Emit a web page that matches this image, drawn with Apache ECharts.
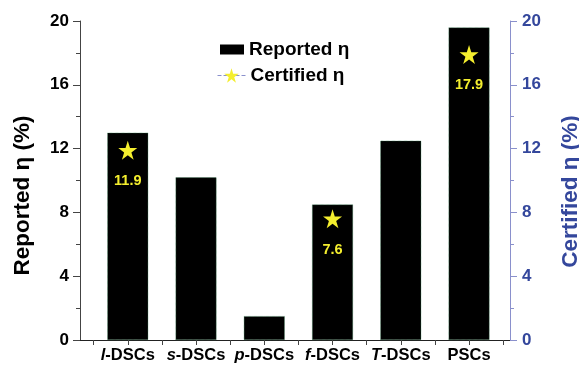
<!DOCTYPE html>
<html>
<head>
<meta charset="utf-8">
<script src="https://cdn.jsdelivr.net/npm/echarts@6/dist/echarts.min.js"></script>
<style>
  html, body { margin: 0; padding: 0; background: #fff; }
  #chart { width: 579px; height: 366px; }
</style>
</head>
<body>
<div id="chart"></div>
<script>
// Cell types (italic prefix + suffix) and efficiencies
const prefixes = ['l', 's', 'p', 'f', 'T', ''];
const suffixes = ['-DSCs', '-DSCs', '-DSCs', '-DSCs', '-DSCs', 'PSCs'];
const reported = [13.0, 10.2, 1.5, 8.5, 12.5, 19.6];
const certified = [11.9, null, null, 7.6, null, 17.9];
const yTicks = [0, 4, 8, 12, 16, 20];

const positions = prefixes.map((_, i) => i + 1);
const barData = reported.map((v, i) => [positions[i], v]);
const starData = certified.map((v, i) => [positions[i], v]);

const FONT = 'Liberation Sans';
const BLUE = '#34479c';
const BLUE_LINE = '#8a90cc';
const YELLOW = '#f4ee2e';
const STAR = 'path://M50,0 L61.8,36.2 L100,36.2 L69.1,58.8 L80.9,95.1 L50,72.7 L19.1,95.1 L30.9,58.8 L0,36.2 L38.2,36.2 Z';

const chart = echarts.init(document.getElementById('chart'), null, { renderer: 'canvas' });

function catLabel(v) {
  const i = Math.round(v) - 1;
  if (i < 0 || i >= prefixes.length) return '';
  return prefixes[i] ? '{i|' + prefixes[i] + '}{n|' + suffixes[i] + '}' : '{n|' + suffixes[i] + '}';
}

const legendText = { fontFamily: FONT, fontWeight: 'bold', fontSize: 19, color: '#000' };

chart.setOption({
  animation: false,
  backgroundColor: '#fff',
  grid: { left: 80, right: 69, top: 21, bottom: 26, outerBoundsMode: 'none', containLabel: false },
  legend: [
    {
      left: 215, top: 35,
      itemWidth: 24, itemHeight: 10, itemGap: 0,
      textStyle: legendText,
      data: [{ name: 'Reported η', icon: 'rect', itemStyle: { color: '#000', borderWidth: 0 } }]
    },
    {
      left: 212, top: 61,
      itemWidth: 28, itemHeight: 18, itemGap: 0,
      textStyle: legendText,
      data: [{ name: 'Certified η', lineStyle: { color: BLUE_LINE, type: 'dashed', width: 1, opacity: 1 } }]
    }
  ],
  xAxis: [
    {
      type: 'value', min: 0.3, max: 6.6, position: 'bottom',
      splitLine: { show: false },
      axisLine: { lineStyle: { color: '#444', width: 1 } },
      axisTick: { show: true, customValues: [0.5, 1, 1.5, 2, 2.5, 3, 3.5, 4, 4.5, 5, 5.5, 6, 6.5], length: 5, lineStyle: { color: '#444' } },
      axisLabel: {
        customValues: positions,
        margin: 7,
        formatter: catLabel,
        rich: {
          i: { fontFamily: FONT, fontWeight: 'bold', fontStyle: 'italic', fontSize: 16.5, color: '#000' },
          n: { fontFamily: FONT, fontWeight: 'bold', fontSize: 16.5, color: '#000' }
        }
      }
    },
    {
      type: 'value', min: 0.3, max: 6.6, position: 'top',
      splitLine: { show: false },
      axisLine: { lineStyle: { color: '#222', width: 1 } },
      axisTick: { show: false },
      axisLabel: { show: false }
    }
  ],
  yAxis: [
    {
      type: 'value', min: 0, max: 20, interval: 4, position: 'left',
      name: 'Reported η (%)', nameLocation: 'middle', nameGap: 46,
      nameTextStyle: { fontFamily: FONT, fontWeight: 'bold', fontSize: 22.5, color: '#000', padding: [0, 30, 0, 0] },
      splitLine: { show: false },
      axisLine: { show: true, lineStyle: { color: '#444' } },
      axisTick: { show: true, length: 7, lineStyle: { color: '#444' } },
      minorTick: { show: true, splitNumber: 2, length: 4, lineStyle: { color: '#444' } },
      axisLabel: { margin: 11, fontFamily: FONT, fontWeight: 'bold', fontSize: 17, color: '#000',
        customValues: yTicks }
    },
    {
      type: 'value', min: 0, max: 20, interval: 4, position: 'right',
      name: 'Certified η (%)', nameLocation: 'middle', nameGap: 49, nameRotate: 90,
      nameTextStyle: { fontFamily: FONT, fontWeight: 'bold', fontSize: 22.5, color: BLUE, padding: [0, 22, 0, 0] },
      splitLine: { show: false },
      axisLine: { show: true, lineStyle: { color: BLUE_LINE } },
      axisTick: { show: true, length: 7, lineStyle: { color: BLUE_LINE } },
      minorTick: { show: true, splitNumber: 2, length: 4, lineStyle: { color: BLUE_LINE } },
      axisLabel: { margin: 12, fontFamily: FONT, fontWeight: 'bold', fontSize: 17, color: BLUE,
        customValues: yTicks }
    }
  ],
  series: [
    {
      name: 'Reported η',
      type: 'bar',
      xAxisIndex: 0, yAxisIndex: 0,
      barWidth: 41,
      itemStyle: { color: '#000', borderColor: '#3a8a5a', borderWidth: 0.6, borderType: 'dotted' },
      data: barData
    },
    {
      name: 'Certified η',
      type: 'line',
      xAxisIndex: 0, yAxisIndex: 1,
      symbol: STAR,
      symbolSize: 19,
      showAllSymbol: true,
      connectNulls: false,
      lineStyle: { opacity: 0 },
      itemStyle: { color: YELLOW },
      label: {
        show: true, position: 'bottom', distance: 14,
        fontFamily: FONT, fontWeight: 'bold', fontSize: 14.5, color: YELLOW,
        formatter: p => p.value[1].toFixed(1)
      },
      data: starData
    }
  ]
});
</script>
</body>
</html>
